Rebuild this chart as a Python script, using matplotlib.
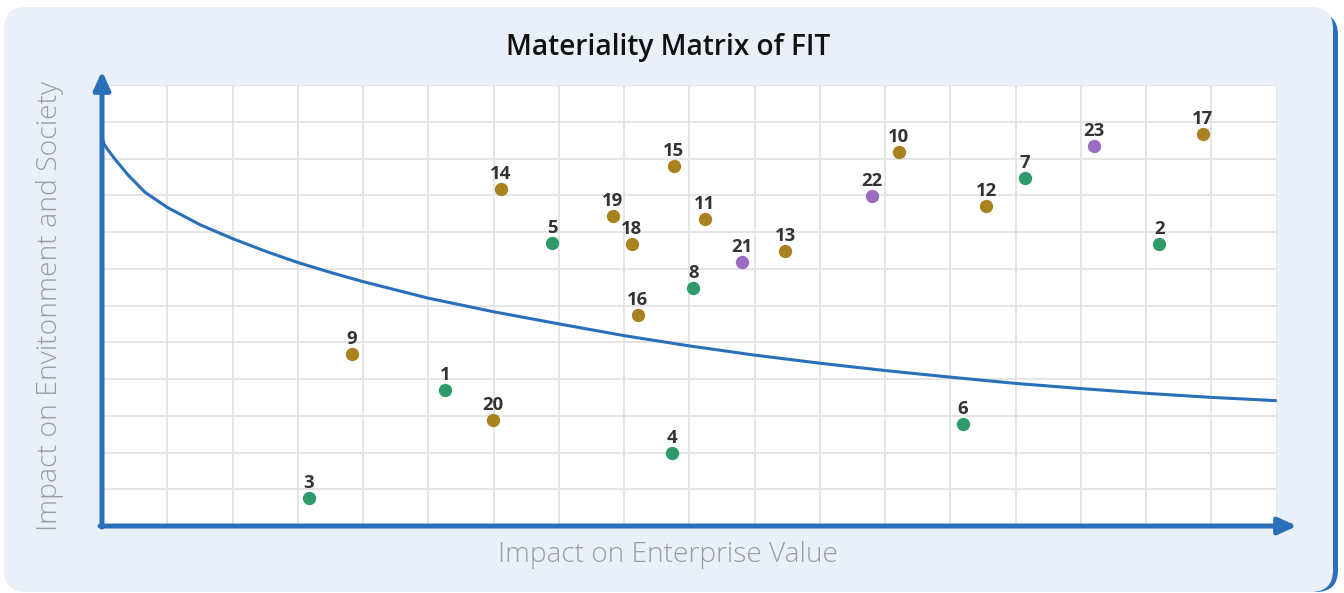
import matplotlib
matplotlib.use("Agg")
import matplotlib.pyplot as plt
from matplotlib.patches import FancyBboxPatch
from matplotlib.transforms import IdentityTransform

# ---- data ----
topic_ids = [1, 2, 3, 4, 5, 6, 7, 8, 9, 10, 11, 12, 13, 14, 15, 16, 17, 18, 19, 20, 21, 22, 23]
enterprise_impact = [5.26, 16.20, 3.17, 8.73, 6.90, 13.19, 14.14, 9.06, 3.83, 12.21, 9.24, 13.55,
                     10.47, 6.11, 8.76, 8.21, 16.87, 8.12, 7.83, 5.99, 9.81, 11.80, 15.20]
society_impact = [3.70, 7.67, 0.76, 1.99, 7.70, 2.78, 9.47, 6.48, 4.68, 10.18, 8.35, 8.71,
                  7.48, 9.17, 9.80, 5.74, 10.67, 7.67, 8.44, 2.88, 7.18, 8.98, 10.34]
topic_group = ["green", "green", "green", "green", "green", "green", "green", "green",
               "gold", "gold", "gold", "gold", "gold", "gold", "gold", "gold", "gold", "gold",
               "gold", "gold", "purple", "purple", "purple"]

threshold_x = [0.0, 0.03, 0.08, 0.2, 0.4, 0.66, 1.0, 1.5, 2.0, 2.5, 3.0, 3.5, 4.0, 5.0, 6.0,
               7.0, 8.0, 9.0, 10.0, 11.0, 12.0, 13.0, 14.0, 15.0, 16.0, 17.0, 18.0]
threshold_y = [10.58, 10.40, 10.26, 9.98, 9.55, 9.08, 8.67, 8.20, 7.82, 7.48, 7.17, 6.90, 6.65,
               6.20, 5.83, 5.50, 5.18, 4.90, 4.65, 4.43, 4.23, 4.05, 3.88, 3.74, 3.61, 3.50, 3.41]

title = "Materiality Matrix of FIT"
x_label = "Impact on Enterprise Value"
y_label = "Impact on Envitonment and Society"

group_colors = {"green": "#2f9a6a", "gold": "#a8821f", "purple": "#9a6cc2"}
blue = "#2a6fba"

W, H = 1344, 593
fig = plt.figure(figsize=(W / 100, H / 100), dpi=100)
fig.patch.set_facecolor("white")

# card background: blue edge on the right + light panel
fig.add_artist(FancyBboxPatch((9, 1), 1329, 579, boxstyle="round,pad=0,rounding_size=22",
                              transform=IdentityTransform(), facecolor=blue, edgecolor="none", zorder=0))
fig.add_artist(FancyBboxPatch((4, 1), 1329, 585, boxstyle="round,pad=0,rounding_size=22",
                              transform=IdentityTransform(), facecolor="#e9f0f8", edgecolor="none", zorder=0.1))

x0, x1 = 102, 1276.7
ytop, ybot = 85, 526
ax = fig.add_axes([x0 / W, 1 - ybot / H, (x1 - x0) / W, (ybot - ytop) / H])
ax.set_zorder(1)
ax.set_facecolor("white")
ax.set_xlim(0, 18)
ax.set_ylim(0, 12)
ax.set_xticks(range(0, 19))
ax.set_yticks(range(0, 13))
ax.tick_params(length=0, labelbottom=False, labelleft=False)
ax.grid(True, color="#e3e3e3", linewidth=1.3)
ax.set_axisbelow(True)
for s in ax.spines.values():
    s.set_visible(False)

# threshold curve
ax.plot(threshold_x, threshold_y, color=blue, linewidth=2.2, zorder=2,
        solid_capstyle="butt", solid_joinstyle="round")

# axes arrows
arrow_style = "-|>,head_length=1.1,head_width=0.5"
ax.annotate("", xy=(0, 12.38), xytext=(0, -0.03), xycoords="data",
            arrowprops=dict(arrowstyle=arrow_style, color=blue, lw=3.6, mutation_scale=10,
                            shrinkA=0, shrinkB=0), annotation_clip=False, zorder=5)
ax.annotate("", xy=(18.31, 0), xytext=(-0.03, 0), xycoords="data",
            arrowprops=dict(arrowstyle=arrow_style, color=blue, lw=3.6, mutation_scale=10,
                            shrinkA=0, shrinkB=0), annotation_clip=False, zorder=5)

# points
for tid, xv, yv, g in zip(topic_ids, enterprise_impact, society_impact, topic_group):
    ax.plot(xv, yv, "o", markersize=9.6, color=group_colors[g], markeredgewidth=0, zorder=4,
            clip_on=False)
    ax.annotate(str(tid), (xv, yv), xytext=(0, 7.2), textcoords="offset points",
                ha="center", va="baseline", fontsize=13.3, fontweight="bold",
                family=["Open Sans", "DejaVu Sans"], color="#333333", zorder=6)

fig.text(668 / W, 1 - 47 / H, title, ha="center", va="center", fontsize=20.2,
         fontweight="semibold", family=["Open Sans", "DejaVu Sans"], color="#111111")
fig.text(668 / W, 1 - 555 / H, x_label, ha="center", va="center", fontsize=20.2,
         fontweight="light", family=["Open Sans", "DejaVu Sans"], color="#9c9c9c")
fig.text(50 / W, 1 - 306 / H, y_label, ha="center", va="center", rotation=90, fontsize=20.4,
         fontweight="light", family=["Open Sans", "DejaVu Sans"], color="#9c9c9c")

fig.savefig("out.png", dpi=100)
